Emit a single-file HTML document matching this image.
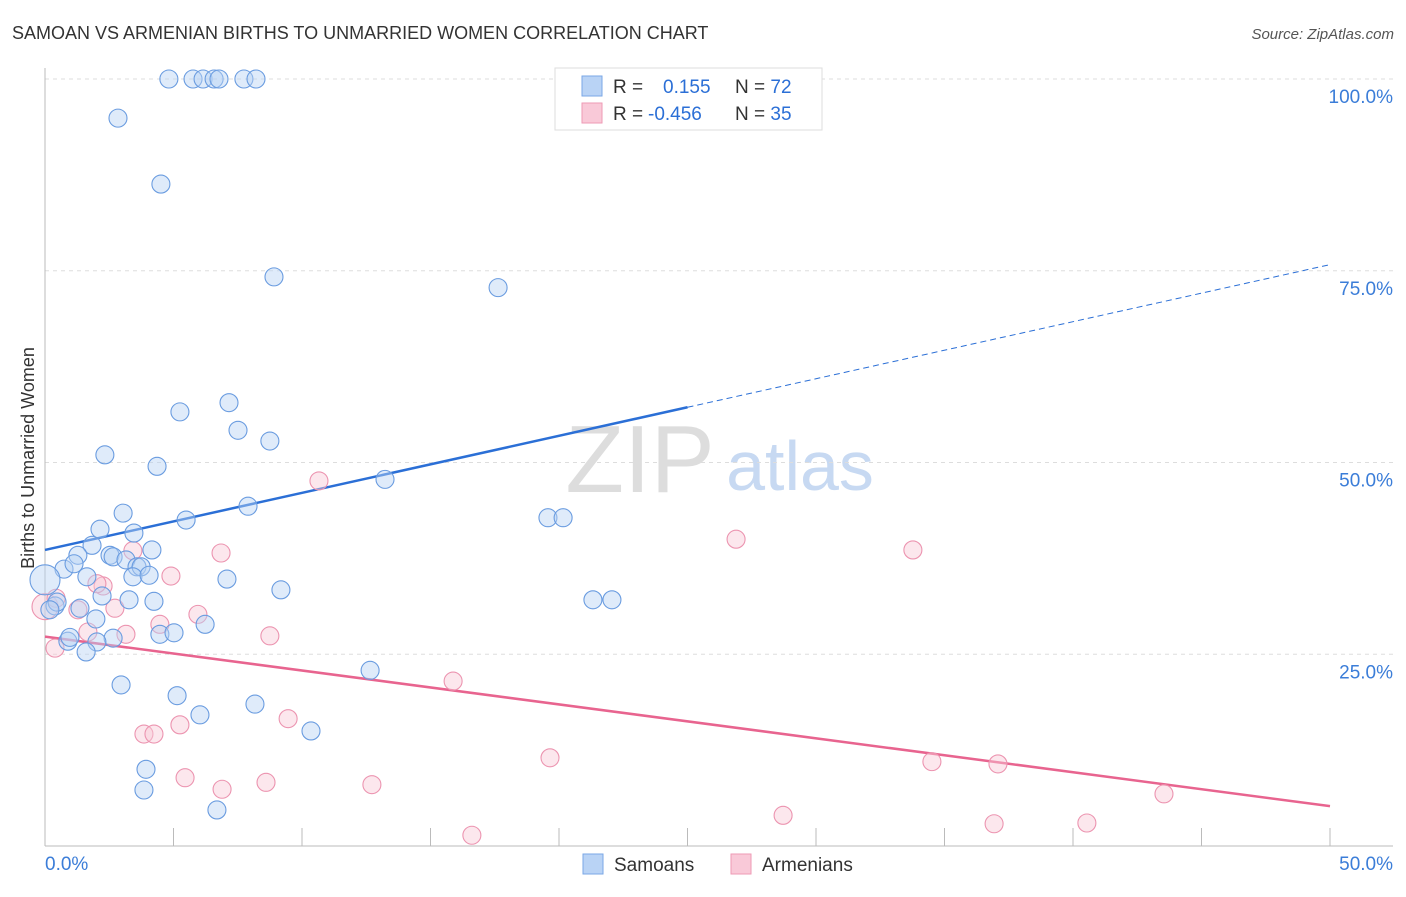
<!DOCTYPE html>
<html><head><meta charset="utf-8"><style>
body{margin:0;background:#fff;font-family:"Liberation Sans",sans-serif;}
svg text{font-family:"Liberation Sans",sans-serif;}
</style></head><body>
<svg id="chart" width="1406" height="892" xmlns="http://www.w3.org/2000/svg">
<text x="12" y="39" font-size="18" fill="#333">SAMOAN VS ARMENIAN BIRTHS TO UNMARRIED WOMEN CORRELATION CHART</text>
<text x="1394" y="39" font-size="15" fill="#555" font-style="italic" text-anchor="end">Source: ZipAtlas.com</text>
<text x="0" y="0" transform="translate(34,458) rotate(-90)" font-size="18" fill="#333" text-anchor="middle">Births to Unmarried Women</text>
<text x="640" y="492" font-size="96" fill="#ddd" font-family="Liberation Serif" text-anchor="middle">ZIP</text>
<text x="800" y="490" font-size="70" fill="#c7d9f2" text-anchor="middle">atlas</text>
<g id="grid"></g><g id="ticks"></g><g id="lines"></g><g id="pts"></g>
<g>
<rect x="555" y="68" width="267" height="62" fill="#fff" stroke="#ddd"/>
<rect x="582" y="76" width="20" height="20" fill="#b9d3f5" stroke="#7aa7e6"/>
<rect x="582" y="103" width="20" height="20" fill="#f9c9d8" stroke="#ee9ab5"/>
<text x="613" y="93" font-size="19" fill="#333">R = <tspan fill="#2b6fd6" x="663">0.155</tspan><tspan x="735">N = </tspan><tspan fill="#2b6fd6">72</tspan></text>
<text x="613" y="120" font-size="19" fill="#333">R = <tspan fill="#2b6fd6" x="648">-0.456</tspan><tspan x="735">N = </tspan><tspan fill="#2b6fd6">35</tspan></text>
</g>
<g>
<rect x="583" y="854" width="20" height="20" fill="#b9d3f5" stroke="#7aa7e6"/>
<text x="614" y="871" font-size="19" fill="#333">Samoans</text>
<rect x="731" y="854" width="20" height="20" fill="#f9c9d8" stroke="#ee9ab5"/>
<text x="762" y="871" font-size="19" fill="#333">Armenians</text>
</g>
</svg>
<script>
const samoanX=[4.82,5.76,6.15,6.58,6.77,7.74,8.21,2.84,4.51,8.91,17.63,5.25,7.16,7.51,8.75,2.33,4.36,13.23,7.90,5.49,19.57,20.16,3.04,2.14,3.46,1.83,4.16,1.28,2.53,2.65,3.15,3.58,3.74,0.74,1.13,1.63,3.42,4.05,7.08,9.18,2.22,3.27,4.24,21.32,22.06,1.36,0.39,0.47,0.19,1.98,6.23,4.47,5.02,2.65,0.89,2.02,0.97,1.60,12.65,2.96,5.14,6.03,8.17,10.35,3.93,3.85,6.69,0];
const samoanY=[100,100,100,100,100,100,100,94.9,86.3,74.2,72.8,56.6,57.8,54.2,52.8,51.0,49.5,47.8,44.3,42.5,42.8,42.8,43.4,41.3,40.8,39.2,38.6,37.9,37.9,37.7,37.3,36.4,36.4,36.1,36.8,35.1,35.1,35.3,34.8,33.4,32.6,32.1,31.9,32.1,32.1,31.0,31.3,31.8,30.8,29.6,28.9,27.6,27.8,27.1,26.7,26.6,27.2,25.3,22.9,21.0,19.6,17.1,18.5,15.0,10.0,7.3,4.7,34.7];
const armenianX=[0,0.43,0.39,2.26,2.02,2.72,3.42,4.90,1.28,1.67,3.15,4.47,5.95,6.85,10.66,8.75,15.88,26.89,33.77,5.25,3.85,4.24,9.46,5.45,6.89,8.60,12.72,19.65,34.51,37.08,43.54,28.72,36.93,40.54,16.61];
const armenianY=[31.2,32.3,25.8,33.9,34.2,31.0,38.5,35.2,30.8,27.9,27.6,28.9,30.2,38.2,47.6,27.4,21.5,40.0,38.6,15.8,14.6,14.6,16.6,8.9,7.4,8.3,8.0,11.5,11.0,10.7,6.8,4.0,2.9,3.0,1.4];
const samoanTrend=[38.6,57.2,75.8]; // y at x=0,25,50
const armenianTrend=[27.3,5.2]; // y at x=0,50
const yTicks=[25,50,75,100];
const yTickLabels=["25.0%","50.0%","75.0%","100.0%"];
const xTickLabels=["0.0%","50.0%"];
const NS="http://www.w3.org/2000/svg";
const sx=v=>45+v*25.7, sy=v=>846-v*7.67;
function mk(tag,attrs,parent){const e=document.createElementNS(NS,tag);for(const k in attrs)e.setAttribute(k,attrs[k]);document.getElementById(parent).appendChild(e);return e;}
yTicks.forEach((t,i)=>{
 const g=mk('line',{x1:45,x2:1393,y1:sy(t),y2:sy(t),stroke:'#ddd','stroke-dasharray':'4,4'},'grid');
 
 
 const tx=mk('text',{x:1393,y:sy(t)+24,'font-size':19,fill:'#3b7dd8','text-anchor':'end'},'ticks');
 tx.textContent=yTickLabels[i];
 
 
});
let ax=mk('line',{x1:45,x2:45,y1:68,y2:846,stroke:'#bbb'},'grid');


ax=mk('line',{x1:45,x2:1393,y1:846,y2:846,stroke:'#bbb'},'grid');


for(let i=0;i<=10;i++){const l=mk('line',{x1:sx(i*5),x2:sx(i*5),y1:828,y2:846,stroke:'#bbb'},'grid');
 
 }
[[0,45,'start'],[50,1393,'end']].forEach((d,i)=>{const t=mk('text',{x:d[1],y:870,'font-size':19,fill:'#3b7dd8','text-anchor':d[2]},'ticks');t.textContent=xTickLabels[i];
 
 });
function pts(X,Y,fill,stroke,name,bigR){X.forEach((x,i)=>{const r=(x===0)?bigR:9;const c=mk('circle',{cx:sx(x),cy:sy(Y[i]),r:r,fill:fill,'fill-opacity':0.45,stroke:stroke,'stroke-width':1.1},'pts');
 
 });}
pts(armenianX,armenianY,'#f9c9d8','#ec94b0','armenian-point',13);
pts(samoanX,samoanY,'#b9d3f5','#6a9ce0','samoan-point',15);
let l=mk('line',{x1:sx(0),y1:sy(samoanTrend[0]),x2:sx(25),y2:sy(samoanTrend[1]),stroke:'#2b6fd6','stroke-width':2.5},'lines');


l=mk('line',{x1:sx(25),y1:sy(samoanTrend[1]),x2:sx(50),y2:sy(samoanTrend[2]),stroke:'#2b6fd6','stroke-width':1,'stroke-dasharray':'6,4'},'lines');


l=mk('line',{x1:sx(0),y1:sy(armenianTrend[0]),x2:sx(50),y2:sy(armenianTrend[1]),stroke:'#e8648f','stroke-width':2.5},'lines');


</script>
</body></html>
